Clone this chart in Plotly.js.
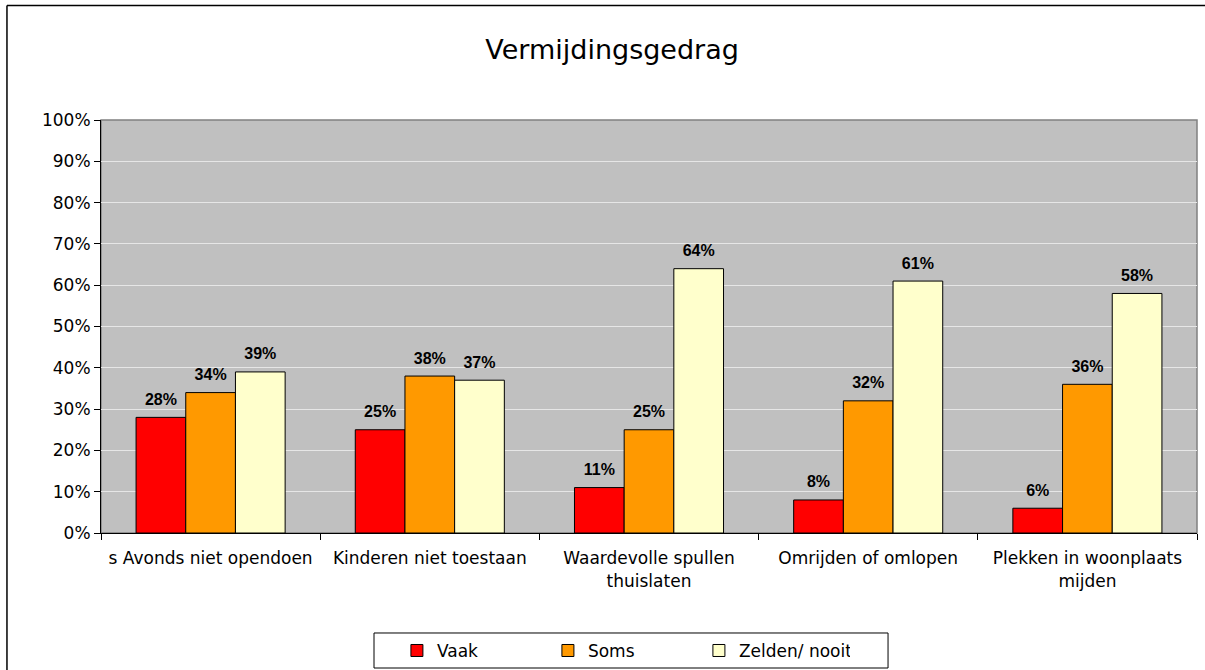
<!DOCTYPE html>
<html>
<head>
<meta charset="utf-8">
<script src="https://cdn.plot.ly/plotly-3.0.1.min.js"></script>
<style>html,body{margin:0;padding:0;background:#fff;}#chart{width:1205px;height:670px;}</style>
</head>
<body>
<div id="chart"></div>
<script>
const categories = ["s Avonds niet opendoen", "Kinderen niet toestaan", "Waardevolle spullen<br>thuislaten", "Omrijden of omlopen", "Plekken in woonplaats<br>mijden"];
const seriesNames = ["Vaak", "Soms", "Zelden/ nooit"];
const vaak = [28, 25, 11, 8, 6];
const soms = [34, 38, 25, 32, 36];
const zelden = [39, 37, 64, 61, 58];
const yTicks = [0, 10, 20, 30, 40, 50, 60, 70, 80, 90, 100];

const colors = ["#ff0000", "#ff9900", "#ffffcc"];
const values = [vaak, soms, zelden];

const barTraces = values.map((v, i) => ({
  type: "bar",
  name: seriesNames[i],
  x: categories,
  y: v,
  offsetgroup: "g" + i,
  marker: {color: colors[i], line: {color: "#000", width: 1}},
  hoverinfo: "none"
}));

const labelTraces = values.map((v, i) => ({
  type: "scatter",
  mode: "markers+text",
  x: categories,
  y: v,
  offsetgroup: "g" + i,
  showlegend: false,
  marker: {size: 12, opacity: 0},
  text: v.map(n => n + "%"),
  textposition: "top center",
  cliponaxis: false,
  textfont: {family: "Liberation Sans, Arial", size: 16, color: "#000", weight: "bold"},
  hoverinfo: "none"
}));

const layout = {
  width: 1205, height: 670,
  margin: {l: 101, r: 8, t: 120, b: 137, autoexpand: false},
  paper_bgcolor: "#fff",
  plot_bgcolor: "#c0c0c0",
  font: {family: "DejaVu Sans", size: 17, color: "#000"},
  title: {text: "Vermijdingsgedrag", font: {family: "DejaVu Sans", size: 27, color: "#000"}, x: 0.508, xanchor: "center", y: 0.926, yanchor: "middle"},
  barmode: "group",
  bargap: 0.32,
  bargroupgap: 0,
  scattermode: "group",
  scattergap: 0.32,
  showlegend: true,
  legend: {
    orientation: "h", x: 0.270, xanchor: "left", y: -0.242, yanchor: "top",
    borderwidth: 0, bgcolor: "rgba(0,0,0,0)",
    entrywidth: 106, entrywidthmode: "pixels",
    font: {family: "DejaVu Sans", size: 17, color: "#000"},
    traceorder: "normal"
  },
  xaxis: {
    showline: true, linecolor: "#000", linewidth: 1,
    ticks: "outside", tickson: "boundaries", ticklen: 6, tickcolor: "#000",
    ticklabelstandoff: 10,
    tickfont: {family: "DejaVu Sans", size: 17, color: "#000"},
    showgrid: false, zeroline: false, fixedrange: true
  },
  yaxis: {
    range: [0, 100], tickvals: yTicks, ticktext: yTicks.map(t => t + "%"),
    showline: true, linecolor: "#000", linewidth: 1,
    ticks: "outside", ticklen: 6, tickcolor: "#000",
    tickfont: {family: "DejaVu Sans", size: 17, color: "#000"},
    showgrid: true, gridcolor: "#e6e6e6", gridwidth: 1,
    zeroline: false, fixedrange: true
  },
  shapes: [
    {type: "rect", xref: "paper", yref: "paper", x0: 0, x1: 1, y0: 0, y1: 1, line: {color: "#808080", width: 1.5}, layer: "below"},
    {type: "rect", xref: "paper", yref: "paper", x0: 0.2491, x1: 0.7181, y0: -0.2421, y1: -0.3269, line: {color: "#000", width: 1}, fillcolor: "#fff", layer: "below"},
    {type: "line", xref: "paper", yref: "paper", x0: -0.0858, x1: 1.2, y0: 1.277, y1: 1.277, line: {color: "#000", width: 1.5}, layer: "above"},
    {type: "line", xref: "paper", yref: "paper", x0: -0.0858, x1: -0.0858, y0: -0.5, y1: 1.277, line: {color: "#000", width: 1.5}, layer: "above"}
  ]
};

Plotly.newPlot("chart", barTraces.concat(labelTraces), layout, {displayModeBar: false, staticPlot: true});
</script>
</body>
</html>
